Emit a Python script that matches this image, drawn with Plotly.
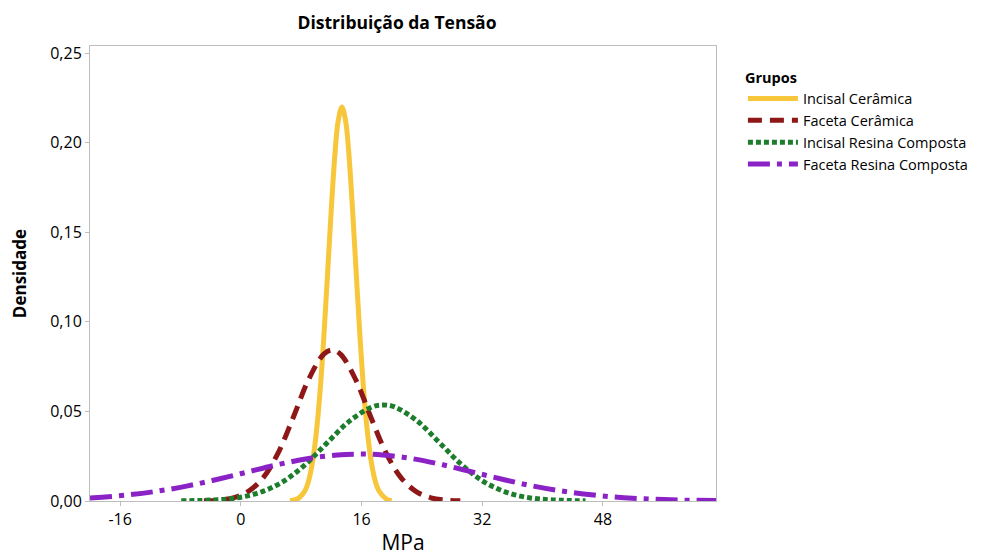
import plotly.graph_objects as go

# Values (MPa vs density)
incisal_ceramica_x = [6.5, 7.5, 8.5, 9.0, 9.5, 10.0, 10.5, 11.0, 11.5, 12.0, 12.5, 12.9, 13.4,
                      13.9, 14.3, 14.8, 15.3, 15.8, 16.3, 16.8, 17.3, 17.8, 18.3, 19.3, 20.0]
incisal_ceramica_y = [0.0002, 0.0011, 0.0057, 0.0115, 0.0217, 0.0378, 0.061, 0.0915, 0.127, 0.1635,
                      0.195, 0.212, 0.220, 0.212, 0.195, 0.1635, 0.127, 0.0915, 0.061, 0.0378,
                      0.0217, 0.0115, 0.0057, 0.0011, 0.0003]

faceta_ceramica_x = [-4.9, -3, -1, 1, 3, 5, 7, 9, 11, 12.1, 13.2, 15.2, 17.2, 19.2, 21.2, 23.2,
                     25.2, 27.2, 29.1]
faceta_ceramica_y = [0.0001, 0.0005, 0.0018, 0.0054, 0.0132, 0.0273, 0.0472, 0.068, 0.082, 0.0843,
                     0.082, 0.068, 0.0472, 0.0273, 0.0132, 0.0054, 0.0018, 0.0005, 0.0001]

incisal_resina_x = [-7.9, -3.6, -0.6, 2.4, 5.4, 8.4, 11.4, 14.4, 17.4, 18.9, 20.4, 23.4, 26.4,
                    29.4, 32.4, 35.4, 38.4, 41.4, 45.7]
incisal_resina_y = [0.0001, 0.0006, 0.0017, 0.0046, 0.0103, 0.0198, 0.0323, 0.0446, 0.0525, 0.0536,
                    0.0525, 0.0446, 0.0323, 0.0198, 0.0103, 0.0046, 0.0017, 0.0006, 0.0001]

faceta_resina_x = [-20, -15.2, -11.2, -7.2, -3.2, 0.8, 4.8, 8.8, 12.8, 15.8, 18.8, 22.8, 26.8,
                   30.8, 34.8, 38.8, 42.8, 46.8, 50.8, 54.8, 58.8, 63]
faceta_resina_y = [0.0016, 0.0033, 0.0054, 0.0083, 0.0120, 0.0161, 0.0202, 0.0236, 0.0257, 0.0262,
                   0.0257, 0.0236, 0.0202, 0.0161, 0.0120, 0.0083, 0.0054, 0.0033, 0.00185,
                   0.00097, 0.00048, 0.00021]

x_ticks = [-16, 0, 16, 32, 48]
y_ticks = [0.0, 0.05, 0.10, 0.15, 0.20, 0.25]

FONT = "Open Sans, Noto Sans, sans-serif"

fig = go.Figure()
fig.add_trace(go.Scatter(x=incisal_ceramica_x, y=incisal_ceramica_y, mode="lines",
                         name="Incisal Cerâmica",
                         line=dict(color="#F7C63A", width=5, shape="spline", smoothing=1.0)))
fig.add_trace(go.Scatter(x=faceta_ceramica_x, y=faceta_ceramica_y, mode="lines",
                         name="Faceta Cerâmica",
                         line=dict(color="#8E1717", width=5, dash="14px,8px", shape="spline", smoothing=1.0)))
fig.add_trace(go.Scatter(x=incisal_resina_x, y=incisal_resina_y, mode="lines",
                         name="Incisal Resina Composta",
                         line=dict(color="#1C7D2C", width=5, dash="5px,3px", shape="spline", smoothing=1.0)))
fig.add_trace(go.Scatter(x=faceta_resina_x, y=faceta_resina_y, mode="lines",
                         name="Faceta Resina Composta",
                         line=dict(color="#8A22C6", width=5, dash="22px,7px,5px,7px", shape="spline", smoothing=1.0)))

# page body has an 8px margin, so the figure is 8px smaller and shifted
fig.update_layout(
    width=975, height=548,
    margin=dict(l=82, r=266.5, t=38, b=55, autoexpand=False),
    paper_bgcolor="white", plot_bgcolor="white",
    separators=",.",
    font=dict(family=FONT, color="#000000"),
    title=dict(text="<b>Distribuição da Tensão</b>", x=0.399, xanchor="center", y=0.972, yanchor="middle",
               font=dict(size=17.5, family=FONT, color="#000")),
    legend=dict(title=dict(text="<b>Grupos</b>", font=dict(size=14.5)),
                x=1.043, xanchor="left", y=0.961, yanchor="top",
                font=dict(size=14.5, family=FONT), tracegroupgap=0, itemwidth=50,
                bgcolor="rgba(0,0,0,0)"),
    showlegend=True,
)
fig.update_xaxes(range=[-20, 63], tickvals=x_ticks, ticktext=[str(v) for v in x_ticks],
                 showgrid=False, zeroline=False, showline=True, linecolor="#BDBDBD", linewidth=1,
                 mirror=True, ticks="outside", ticklen=4, tickcolor="#BDBDBD", automargin=False,
                 tickfont=dict(size=16, family=FONT),
                 title=dict(text="MPa", font=dict(size=21, family=FONT), standoff=8))
fig.update_yaxes(range=[0, 0.254], tickvals=y_ticks, tickformat=".2f",
                 showgrid=False, zeroline=False, showline=True, linecolor="#BDBDBD", linewidth=1,
                 mirror=True, ticks="outside", ticklen=4, tickcolor="#BDBDBD", automargin=False,
                 tickfont=dict(size=16, family=FONT),
                 title=dict(text="<b>Densidade</b>", font=dict(size=17, family=FONT), standoff=21))

fig.write_html("out.html")
